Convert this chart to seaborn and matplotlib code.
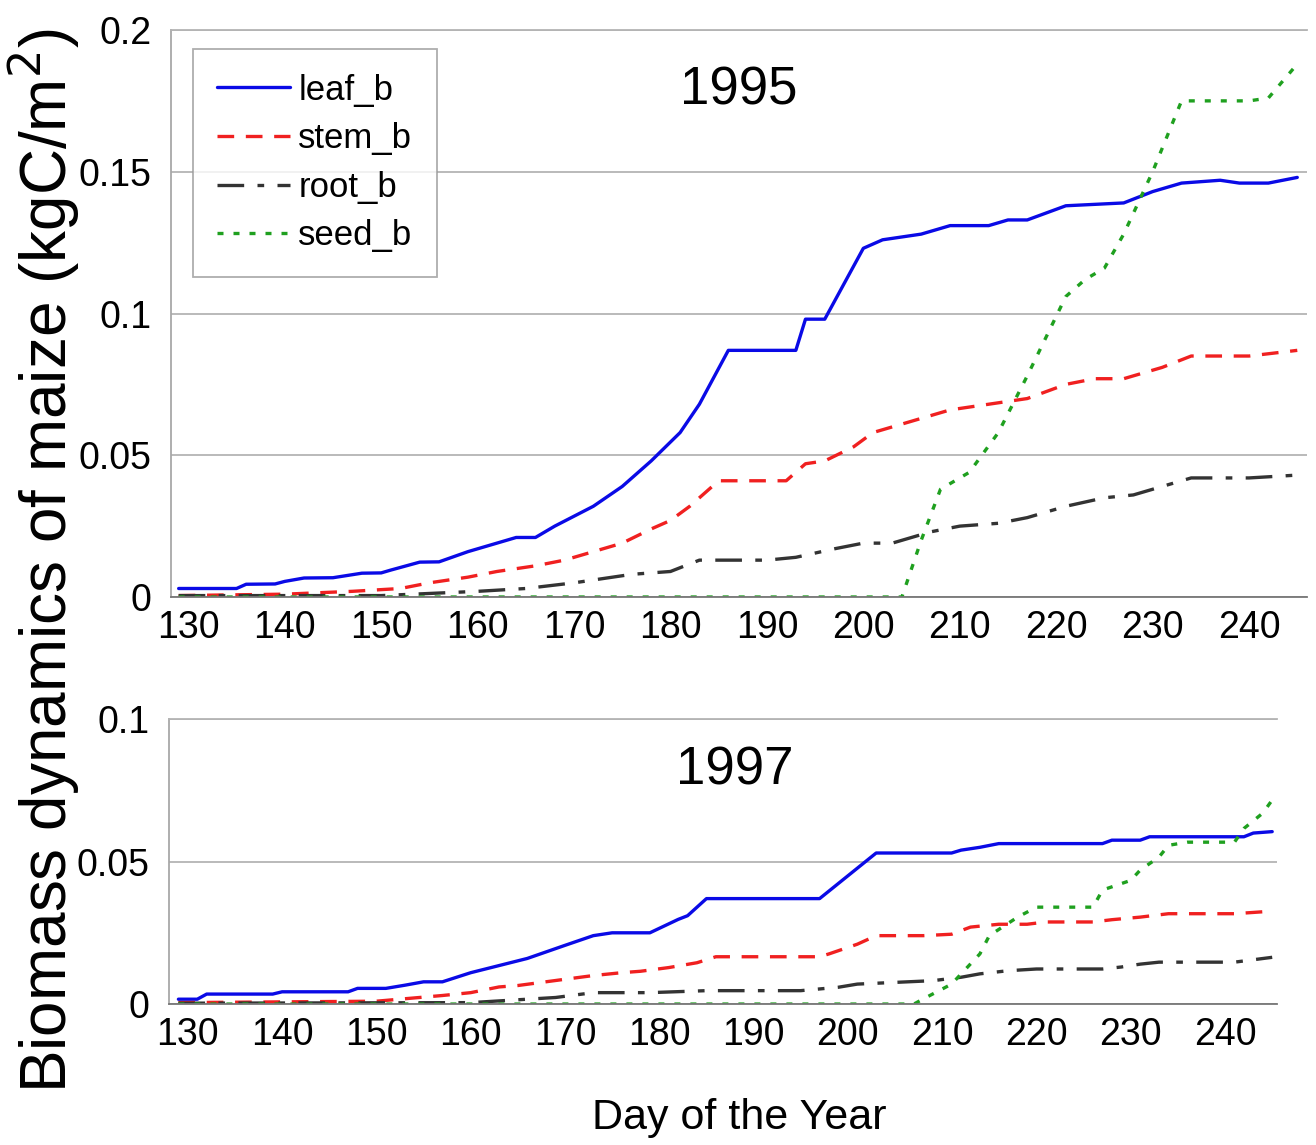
import numpy as np
import pandas as pd
import matplotlib
matplotlib.use("Agg")
import matplotlib.pyplot as plt
from matplotlib.ticker import MultipleLocator, FuncFormatter
import seaborn as sns

# ---- 1995 ----
leaf95_day = [129, 135, 136, 139, 140, 142, 145, 148, 150, 151, 154, 156, 159, 162, 164, 166,
              168, 172, 175, 178, 181, 183, 186, 193, 194, 196, 200, 202, 206, 209, 213, 215,
              217, 221, 227, 230, 233, 237, 239, 242, 245]
leaf95 = [0.003, 0.003, 0.0045, 0.0046, 0.0055, 0.0067, 0.0068, 0.0084, 0.0085, 0.0095, 0.0123,
          0.0124, 0.016, 0.019, 0.021, 0.021, 0.025, 0.032, 0.039, 0.048, 0.058, 0.068, 0.087,
          0.087, 0.098, 0.098, 0.123, 0.126, 0.128, 0.131, 0.131, 0.133, 0.133, 0.138, 0.139,
          0.143, 0.146, 0.147, 0.146, 0.146, 0.148]

stem95_day = [129, 140, 147, 152, 155, 159, 162, 166, 169, 172, 175, 178, 180, 182, 185, 192,
              194, 196, 199, 201, 205, 209, 213, 217, 221, 224, 227, 231, 234, 240, 245]
stem95 = [0.0005, 0.001, 0.002, 0.003, 0.005, 0.007, 0.009, 0.011, 0.013, 0.016, 0.019, 0.024,
          0.027, 0.032, 0.041, 0.041, 0.047, 0.048, 0.053, 0.058, 0.062, 0.066, 0.068, 0.070,
          0.075, 0.077, 0.077, 0.081, 0.085, 0.085, 0.087]

root95_day = [129, 150, 160, 165, 170, 176, 180, 183, 190, 193, 197, 200, 203, 207, 210, 214,
              217, 221, 225, 228, 232, 234, 240, 245]
root95 = [0.0005, 0.0005, 0.002, 0.003, 0.005, 0.008, 0.009, 0.013, 0.013, 0.014, 0.017, 0.019,
          0.019, 0.023, 0.025, 0.026, 0.028, 0.032, 0.035, 0.036, 0.040, 0.042, 0.042, 0.043]

seed95_day = [129, 204, 206, 208, 211, 214, 217, 219, 221, 223, 225, 227, 230, 233, 240, 242, 245]
seed95 = [0.0, 0.0, 0.02, 0.038, 0.044, 0.058, 0.078, 0.092, 0.106, 0.112, 0.116, 0.128, 0.150,
          0.175, 0.175, 0.176, 0.188]

# ---- 1997 ----
leaf97_day = [129, 131, 132, 139, 140, 147, 148, 151, 153, 155, 157, 160, 166, 170, 173, 175,
              179, 182, 183, 185, 197, 203, 211, 212, 214, 216, 227, 228, 231, 232, 242, 243, 245]
leaf97 = [0.0017, 0.0017, 0.0035, 0.0035, 0.0043, 0.0043, 0.0055, 0.0055, 0.0066, 0.0078,
          0.0078, 0.011, 0.016, 0.0206, 0.024, 0.025, 0.025, 0.0297, 0.031, 0.037, 0.037, 0.053,
          0.053, 0.054, 0.055, 0.0563, 0.0563, 0.0575, 0.0575, 0.0587, 0.0587, 0.060, 0.0605]

stem97_day = [129, 150, 157, 160, 163, 165, 170, 173, 176, 178, 181, 184, 186, 197, 198, 201,
              203, 208, 211, 213, 216, 219, 221, 226, 228, 231, 234, 241, 245]
stem97 = [0.0005, 0.001, 0.003, 0.004, 0.006, 0.0065, 0.0087, 0.010, 0.011, 0.0115, 0.0128,
          0.0145, 0.0166, 0.0166, 0.0176, 0.021, 0.024, 0.024, 0.0245, 0.027, 0.028, 0.028,
          0.0288, 0.0288, 0.0296, 0.0305, 0.0317, 0.0317, 0.0326]

root97_day = [129, 160, 169, 173, 179, 185, 195, 197, 199, 201, 205, 209, 212, 214, 217, 220,
              227, 229, 231, 233, 241, 245]
root97 = [0.0003, 0.0005, 0.0023, 0.004, 0.004, 0.0047, 0.0047, 0.0053, 0.0059, 0.007, 0.0076,
          0.0082, 0.0094, 0.0106, 0.0117, 0.0123, 0.0123, 0.013, 0.014, 0.0147, 0.0147, 0.0164]

seed97_day = [129, 207, 208, 211, 214, 215, 218, 220, 226, 227, 230, 231, 233, 234, 236, 241,
              242, 244, 245]
seed97 = [0.0, 0.0, 0.0018, 0.007, 0.0176, 0.024, 0.0305, 0.034, 0.034, 0.040, 0.0434, 0.047,
          0.0516, 0.0557, 0.0568, 0.0568, 0.0616, 0.067, 0.0716]

series = ["leaf_b", "stem_b", "root_b", "seed_b"]
colors = {"leaf_b": "#0a0ae6", "stem_b": "#f02020", "root_b": "#333333", "seed_b": "#1fa01f"}
dashes = {"leaf_b": "-", "stem_b": (0, (5, 3.5)), "root_b": (0, (8, 4, 2, 4)),
          "seed_b": (0, (1.8, 3))}

data95 = {"leaf_b": (leaf95_day, leaf95), "stem_b": (stem95_day, stem95),
          "root_b": (root95_day, root95), "seed_b": (seed95_day, seed95)}
data97 = {"leaf_b": (leaf97_day, leaf97), "stem_b": (stem97_day, stem97),
          "root_b": (root97_day, root97), "seed_b": (seed97_day, seed97)}

sns.set_theme(style="white")
plt.rcParams["font.family"] = ["Liberation Sans", "DejaVu Sans"]
plt.rcParams["text.color"] = "black"

fig = plt.figure(figsize=(13.16, 11.45), dpi=100)
ax1 = fig.add_axes([0.1299, 0.4786, 0.8632, 0.4952])
ax2 = fig.add_axes([0.1284, 0.1231, 0.8419, 0.2489])


def draw(ax, data, xlim, ylim, yticks, year, ypos):
    for s in series:
        d, v = data[s]
        df = pd.DataFrame({"day": d, "val": v})
        sns.lineplot(data=df, x="day", y="val", ax=ax, color=colors[s], linestyle=dashes[s],
                     linewidth=2.4, label=s, legend=False)
    ax.set_xlim(*xlim)
    ax.set_ylim(*ylim)
    ax.set_yticks(yticks)
    ax.yaxis.set_major_formatter(FuncFormatter(lambda y, p: f"{y:g}"))
    ax.xaxis.set_major_locator(MultipleLocator(10))
    ax.xaxis.set_minor_locator(MultipleLocator(1))
    ax.grid(axis="y", color="#b4b4b4", linewidth=1.3)
    ax.set_axisbelow(True)
    ax.spines["right"].set_visible(False)
    ax.spines["left"].set_color("#a8a8a8")
    ax.spines["top"].set_color("#b4b4b4")
    ax.spines["bottom"].set_color("#777777")
    for sp in ax.spines.values():
        sp.set_linewidth(1.3)
    ax.tick_params(axis="x", which="both", direction="in", length=6, width=1,
                   color="#666666", labelsize=27, labelcolor="black", pad=9)
    ax.tick_params(axis="y", which="both", length=0, labelsize=27, labelcolor="black", pad=14)
    ax.set_xlabel("")
    ax.set_ylabel("")
    ax.text(ypos[0], ypos[1], year, transform=ax.transAxes, fontsize=38,
            ha="center", va="center")


draw(ax1, data95, (128.2, 246.0), (0, 0.2), [0, 0.05, 0.1, 0.15, 0.2], "1995", (0.50, 0.894))
draw(ax2, data97, (128.0, 245.5), (0, 0.1), [0, 0.05, 0.1], "1997", (0.511, 0.82))

handles, labels = ax1.get_legend_handles_labels()
leg = ax1.legend(handles, labels, loc="upper left", bbox_to_anchor=(0.019, 0.966),
                 borderaxespad=0, fontsize=25, frameon=True, fancybox=False,
                 handlelength=2.1, handletextpad=0.25, labelspacing=0.45, borderpad=0.7)
leg.get_frame().set_edgecolor("#9a9a9a")
leg.get_frame().set_linewidth(1.3)

fig.text(0.034, 0.511, "Biomass dynamics of maize (kgC/m$^2$)", rotation=90,
         ha="center", va="center", fontsize=46)
fig.text(0.562, 0.024, "Day of the Year", ha="center", va="center", fontsize=31)

fig.savefig("out.png", dpi=100, facecolor="white")
